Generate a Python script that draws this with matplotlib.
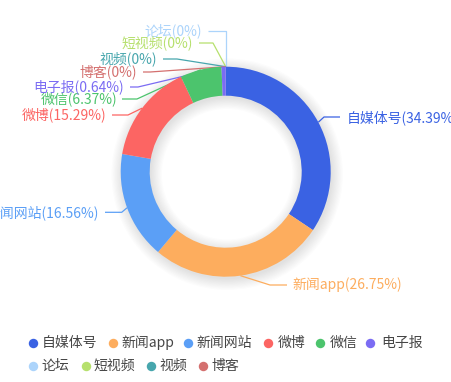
import numpy as np
import matplotlib
matplotlib.use("Agg")
from matplotlib import pyplot as plt
from matplotlib.patches import Wedge

plt.rcParams['font.family'] = ['Noto Sans CJK SC', 'DejaVu Sans']

# data
names = ["自媒体号", "新闻app", "新闻网站", "微博", "微信", "电子报", "论坛", "短视频", "视频", "博客"]
shares = [34.39, 26.75, 16.56, 15.29, 6.37, 0.64, 0, 0, 0, 0]
colors = ["#3a62e3", "#fdad5e", "#5b9ff6", "#fc6563", "#4cc46d", "#7b6cf3",
          "#acd4fb", "#b6e06d", "#47a6ad", "#d4706f"]

W, H = 451, 382
cx, cy = 225.7, 171.7     # ring centre in pixels (from top)
r_out, r_in = 105, 76

def Y(py):
    """ pixel row (from top) -> axis y """
    return H - py

fig = plt.figure(figsize=(W / 100, H / 100), dpi=100)
ax = fig.add_axes([0, 0, 1, 1])

# soft shadow under the ring
for k in range(10):
    ax.add_patch(Wedge((cx + 1.5, Y(cy + 2.5)), r_out + k * 1.2, 0, 360,
                       width=(r_out - r_in) + k * 2.4, facecolor="#000000",
                       alpha=0.012, linewidth=0, zorder=1))

wedges, _ = ax.pie(shares, colors=colors, startangle=90, counterclock=False,
                   center=(cx, Y(cy)), radius=r_out, normalize=True,
                   wedgeprops=dict(width=r_out - r_in, linewidth=0))
for w in wedges:
    w.set_zorder(3)

# label layout: text x, text y, alignment, elbow x, elbow y, line end x
layout = {
    "自媒体号": (347, 117.3, "left", 324, 117, 340),
    "新闻app": (292.5, 285, "left", 270, 285, 287),
    "新闻网站": (99.3, 212.3, "right", 121.7, 212.3, 105),
    "微博": (106, 115, "right", 128, 115, 112),
    "微信": (117, 99, "right", 137, 99, 122),
    "电子报": (124, 87, "right", 138, 87, 130),
    "论坛": (202, 31, "right", 225.7, 31, 208),
    "短视频": (193, 43, "right", 213, 43, 199),
    "视频": (157, 59, "right", 177, 59, 163),
    "博客": (137, 72, "right", 150, 72, 143),
}

for w, name, val, col in zip(wedges, names, shares, colors):
    mid = np.deg2rad((w.theta1 + w.theta2) / 2)
    # anchor on outer edge (axis coords)
    axx = cx + r_out * np.cos(mid)
    axy = Y(cy) + r_out * np.sin(mid)
    tx, ty, ha, ex, ey, lx = layout[name]
    ax.plot([axx, ex, lx], [axy, Y(ey), Y(ey)], color=col, lw=0.9, zorder=2,
            solid_capstyle="butt")
    ax.text(tx, Y(ty), f"{name}({val:g}%)", color=col, fontsize=10,
            ha=ha, va="center", zorder=4)

# legend (flow layout like the original)
leg_rows = [0, 0, 0, 0, 0, 0, 1, 1, 1, 1]
leg_marker_x = [32.7, 113, 188, 267.7, 320, 370, 32.7, 85.7, 151, 203]
leg_text_x = [41.7, 121.7, 196.7, 277.7, 329.3, 381.7, 41.7, 93, 159, 211]
row_y = [342.7, 366]
for name, col, row, mx, tx in zip(names, colors, leg_rows, leg_marker_x, leg_text_x):
    ax.plot([mx], [Y(row_y[row])], marker="o", markersize=6.8, color=col,
            markeredgewidth=0, linestyle="none", zorder=4)
    ax.text(tx, Y(row_y[row]), name, color="#464646", fontsize=10,
            ha="left", va="center", zorder=4)

ax.set_xlim(0, W)
ax.set_ylim(0, H)
ax.set_aspect("auto")
ax.axis("off")

fig.savefig("out.png", dpi=100)
